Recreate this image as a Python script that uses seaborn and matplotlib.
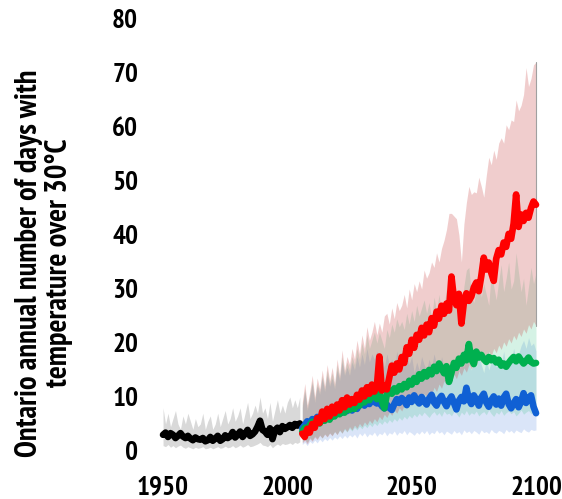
import numpy as np
import pandas as pd
import seaborn as sns
import matplotlib.pyplot as plt
from matplotlib import font_manager

sns.set_theme(style='white')


def pick_narrow_bold():
    cands = []
    for f in font_manager.fontManager.ttflist:
        name = f.name
        if not ('Narrow' in name or 'Condensed' in name):
            continue
        if any(w in name for w in ('Extra', 'Semi', 'Ultra', 'Light', 'Thin', 'Black', 'Medium')):
            continue
        if f.weight not in (700, 'bold'):
            continue
        if f.style != 'normal':
            continue
        rank = 0 if 'Narrow' in name else 1
        cands.append((rank, name))
    cands.sort()
    return cands[0][1] if cands else None


narrow = pick_narrow_bold()
families = ([narrow] if narrow else []) + ['Liberation Sans', 'DejaVu Sans']
plt.rcParams['font.family'] = families
plt.rcParams['font.weight'] = 'bold'
plt.rcParams['text.color'] = 'black'
plt.rcParams['xtick.color'] = 'black'
plt.rcParams['ytick.color'] = 'black'

# historical 1950-2005
hist_years = list(range(1950, 2006))
hist_mean = [3.0, 3.4, 2.6, 3.3, 3.0, 2.4, 2.8, 3.3, 2.7, 2.4,
             2.8, 2.3, 2.0, 2.5, 2.2, 2.1, 2.4, 1.8, 2.0, 2.6,
             1.9, 2.3, 2.8, 1.9, 2.2, 2.9, 2.4, 2.7, 3.5, 2.5,
             3.0, 3.6, 2.6, 3.2, 3.9, 2.8, 3.1, 3.6, 4.5, 5.6,
             3.9, 3.6, 3.0, 4.2, 2.2, 3.8, 4.3, 3.5, 4.6, 4.1,
             4.4, 4.8, 4.3, 5.0, 4.7, 5.1]
hist_hi = [8.0, 5.0, 7.0, 4.5, 6.0, 7.5, 5.0, 4.0, 6.5, 5.0,
           7.0, 5.5, 4.0, 6.0, 4.5, 5.0, 7.0, 4.0, 5.5, 6.5,
           4.0, 5.0, 7.0, 4.5, 6.0, 7.5, 5.0, 6.0, 8.0, 5.5,
           6.5, 8.0, 5.0, 7.0, 9.0, 6.0, 7.0, 8.5, 7.0, 10.0,
           7.0, 8.0, 6.0, 9.0, 5.5, 7.5, 9.5, 7.0, 8.5, 7.0,
           9.0, 10.0, 8.0, 9.5, 8.0, 10.0]
hist_lo = [1.0, 0.8, 1.2, 0.7, 1.0, 0.6, 0.9, 1.1, 0.7, 0.5,
           0.8, 0.6, 0.4, 0.7, 0.5, 0.6, 0.8, 0.4, 0.5, 0.7,
           0.4, 0.6, 0.8, 0.5, 0.6, 0.9, 0.6, 0.7, 1.0, 0.6,
           0.8, 1.1, 0.7, 0.9, 1.2, 0.8, 0.9, 1.1, 1.3, 1.6,
           1.1, 1.0, 0.8, 1.2, 0.6, 1.0, 1.3, 1.0, 1.4, 1.2,
           1.3, 1.5, 1.2, 1.6, 1.4, 1.7]

# projections 2006-2100
proj_years = list(range(2006, 2101))
blue_mean = [4.2, 4.8, 5.5, 4.6, 5.9, 5.2, 6.3, 5.6, 6.8, 6.0,
             6.6, 7.2, 6.4, 7.5, 6.9, 7.8, 7.1, 8.0, 7.4, 7.9,
             7.5, 8.3, 7.8, 8.6, 9.2, 8.4, 9.0, 8.7, 9.5, 9.1,
             8.8, 9.4, 8.3, 7.9, 8.6, 8.0, 7.6, 8.7, 9.6, 8.9,
             9.8, 9.3, 8.5, 9.9, 9.1, 10.3, 9.4, 8.8, 10.0, 9.2,
             8.6, 9.7, 10.4, 9.0, 8.4, 9.6, 10.2, 9.1, 8.3, 9.4,
             10.1, 8.9, 7.7, 9.3, 10.0, 9.2, 11.7, 9.6, 8.7, 10.3,
             9.5, 8.4, 9.9, 10.6, 9.0, 8.2, 9.4, 10.1, 8.6, 9.7,
             8.4, 9.9, 10.6, 8.7, 7.9, 8.8, 9.6, 8.1, 9.1, 10.7,
             8.9, 9.8, 10.3, 8.2, 7.0]
green_mean = [3.6, 4.3, 3.9, 4.8, 5.4, 4.7, 5.8, 5.1, 6.2, 5.6,
              6.3, 5.8, 6.9, 6.4, 7.3, 6.8, 7.6, 7.1, 8.1, 7.6,
              8.3, 7.8, 8.9, 8.4, 9.5, 9.0, 10.0, 9.4, 10.6, 10.1,
              9.6, 10.7, 9.2, 7.9, 10.5, 11.2, 10.6, 11.6, 11.0, 12.0,
              11.4, 12.4, 11.8, 13.0, 12.3, 13.5, 12.8, 14.2, 13.4, 14.6,
              13.8, 15.0, 14.2, 15.6, 14.8, 16.2, 15.3, 14.4, 15.7, 12.8,
              14.5, 16.3, 15.4, 17.1, 16.2, 17.8, 16.8, 19.8, 17.0, 16.1,
              18.4, 17.3, 17.8, 17.0, 16.5, 17.4, 16.8, 17.2, 16.4, 16.9,
              15.8, 16.2, 15.6, 16.3, 16.9, 17.4, 16.6, 17.5, 16.8, 16.2,
              16.7, 17.3, 16.5, 16.2, 16.3]
red_mean = [3.2, 2.6, 4.1, 3.4, 5.0, 4.3, 6.1, 5.2, 7.3, 5.9,
            7.8, 6.4, 8.2, 7.0, 8.6, 7.5, 9.4, 8.1, 9.9, 8.6,
            9.6, 8.9, 10.4, 9.5, 11.2, 10.1, 11.8, 10.6, 12.3, 11.0,
            12.0, 17.5, 11.2, 12.1, 11.4, 13.6, 15.8, 14.5, 16.2, 15.1,
            17.4, 16.3, 19.2, 18.0, 20.6, 19.1, 21.5, 20.6, 22.8, 21.4,
            23.4, 22.0, 24.6, 23.2, 25.8, 24.5, 26.9, 25.4, 27.3, 26.0,
            32.3, 28.2, 27.0, 29.1, 23.6, 27.5, 29.2, 27.8, 28.6, 30.3,
            31.2, 29.6, 32.4, 35.8, 33.6, 34.9, 33.0, 31.5, 35.6, 37.2,
            36.4, 38.6, 37.8, 40.2, 39.3, 42.1, 47.5, 41.5, 43.8, 42.6,
            44.1, 43.2, 45.0, 46.2, 45.6]

blue_hi = [8.0, 11.0, 7.5, 10.0, 12.5, 9.0, 12.0, 10.5, 13.5, 11.0,
           14.0, 12.0, 13.5, 11.5, 15.0, 13.0, 16.5, 14.0, 15.5, 14.0,
           16.5, 15.0, 17.5, 15.5, 18.0, 16.0, 19.0, 16.5, 18.0, 17.0,
           18.5, 16.5, 17.5, 15.5, 18.0, 16.0, 17.0, 15.0, 18.5, 16.5,
           17.0, 15.5, 18.0, 16.0, 17.5, 14.5, 16.5, 15.0, 17.5, 16.0,
           15.0, 17.0, 15.5, 18.0, 16.0, 14.5, 17.5, 15.5, 16.5, 14.0,
           17.0, 15.0, 16.0, 14.5, 17.5, 15.5, 18.5, 16.0, 15.0, 17.0,
           15.5, 17.5, 16.0, 14.5, 17.0, 15.0, 16.5, 18.0, 15.5, 17.0,
           16.0, 18.5, 15.5, 17.5, 16.5, 19.0, 17.0, 18.0, 19.5, 20.5,
           19.0, 21.0, 19.5, 20.0, 18.5]
blue_lo = [1.2, 1.6, 1.0, 1.8, 1.4, 2.0, 1.5, 2.2, 1.7, 2.3,
           1.9, 2.5, 2.0, 2.6, 2.2, 2.8, 2.3, 2.9, 2.4, 3.0,
           2.6, 3.1, 2.4, 3.3, 2.8, 3.4, 2.6, 3.2, 2.9, 3.5,
           2.7, 3.3, 3.0, 3.6, 2.8, 3.4, 3.1, 3.7, 2.9, 3.5,
           3.2, 3.8, 3.0, 3.6, 3.3, 2.9, 3.5, 3.1, 3.7, 3.2,
           3.8, 3.0, 3.5, 3.2, 3.9, 3.3, 3.6, 3.0, 3.7, 3.4,
           3.1, 3.8, 3.3, 3.6, 3.0, 3.9, 3.4, 3.7, 3.2, 3.8,
           3.5, 3.1, 3.9, 3.4, 3.6, 3.2, 4.0, 3.5, 3.3, 3.8,
           3.6, 3.2, 4.0, 3.5, 3.8, 3.3, 3.9, 3.6, 3.4, 4.1,
           3.7, 3.5, 4.0, 3.8, 3.9]
green_hi = [8.5, 11.5, 8.0, 10.5, 13.0, 9.5, 12.5, 11.0, 14.0, 11.5,
            15.0, 12.5, 14.5, 12.0, 16.0, 13.5, 17.5, 14.5, 16.5, 15.0,
            17.5, 16.0, 19.0, 17.0, 20.0, 18.0, 21.5, 19.0, 20.5, 22.0,
            20.0, 22.0, 20.5, 19.0, 22.5, 21.0, 23.5, 22.0, 24.5, 23.0,
            24.0, 22.5, 25.5, 23.5, 26.0, 24.0, 27.0, 25.0, 26.5, 28.0,
            25.5, 27.5, 24.5, 28.5, 26.0, 29.0, 25.5, 27.0, 30.0, 26.5,
            28.0, 31.0, 27.0, 29.5, 26.0, 30.5, 33.5, 34.0, 29.0, 27.5,
            30.0, 32.5, 28.5, 31.0, 29.0, 27.0, 33.0, 30.5, 28.0, 31.5,
            34.5, 29.5, 32.0, 35.0, 30.0, 31.5, 36.7, 33.0, 29.5, 32.0,
            27.0, 30.5, 34.0, 31.0, 33.0]
green_lo = [1.8, 2.2, 1.6, 2.5, 2.0, 2.8, 2.3, 3.0, 2.4, 3.2,
            2.7, 3.4, 2.9, 3.6, 3.1, 3.8, 3.3, 4.0, 3.5, 4.2,
            3.7, 4.4, 3.9, 4.6, 4.1, 4.8, 4.3, 5.0, 4.5, 5.2,
            4.7, 5.4, 4.9, 5.6, 5.1, 5.8, 5.3, 6.0, 5.5, 6.2,
            5.7, 6.4, 5.9, 6.6, 6.1, 6.8, 6.3, 7.0, 6.5, 7.2,
            6.7, 6.2, 6.9, 7.3, 6.6, 7.1, 6.4, 7.4, 6.8, 7.0,
            6.5, 7.3, 6.9, 6.3, 7.2, 6.7, 7.5, 6.6, 7.1, 6.8,
            7.4, 6.5, 7.0, 7.3, 6.7, 7.6, 6.9, 6.4, 7.2, 6.8,
            7.5, 6.6, 7.1, 7.4, 6.9, 7.3, 6.5, 7.0, 7.6, 6.8,
            7.2, 7.5, 6.9, 7.3, 7.0]
red_hi = [9.0, 12.5, 8.5, 11.0, 14.0, 10.0, 13.5, 11.5, 15.0, 12.0,
          16.0, 13.0, 15.5, 12.5, 17.0, 14.0, 18.7, 15.0, 17.5, 16.0,
          19.0, 17.0, 20.5, 18.0, 21.5, 19.0, 23.0, 20.5, 22.0, 24.0,
          21.5, 23.7, 22.0, 25.0, 25.5, 23.5, 26.5, 24.5, 27.5, 26.0,
          27.0, 29.0, 26.5, 30.0, 28.0, 31.0, 29.5, 31.5, 30.0, 33.5,
          32.0, 33.0, 35.0, 34.0, 36.7, 35.0, 37.5, 39.0, 41.0, 44.0,
          44.0, 43.5, 43.0, 40.0, 35.0, 42.0, 46.0, 49.0, 47.5, 48.0,
          47.8, 50.7, 49.0, 47.0, 51.0, 54.4, 53.0, 55.7, 54.0, 57.0,
          58.0, 57.0, 60.4, 59.5, 61.3, 61.0, 65.0, 63.0, 64.0, 66.0,
          71.0, 67.5, 69.0, 71.5, 72.0]
red_lo = [1.5, 2.0, 1.3, 2.3, 1.8, 2.6, 2.1, 2.9, 2.4, 3.1,
          2.6, 3.3, 2.8, 3.6, 3.0, 3.9, 3.3, 4.2, 3.6, 4.5,
          3.9, 4.8, 4.2, 5.1, 4.5, 5.4, 4.8, 5.7, 5.1, 6.0,
          5.4, 6.4, 5.8, 6.8, 6.2, 7.2, 6.6, 7.6, 7.0, 8.0,
          7.4, 8.5, 7.9, 9.0, 8.4, 9.5, 8.9, 10.0, 9.4, 10.6,
          10.0, 11.2, 10.5, 11.8, 11.0, 12.4, 11.6, 13.0, 12.2, 13.6,
          12.8, 14.2, 13.4, 14.8, 14.0, 15.4, 14.6, 16.0, 15.2, 16.6,
          15.8, 17.2, 16.4, 17.8, 17.0, 18.4, 17.6, 19.0, 18.2, 19.6,
          18.8, 20.2, 19.4, 20.8, 20.0, 21.4, 20.6, 22.0, 21.2, 22.6,
          21.8, 23.4, 22.6, 24.0, 23.2]

hist_df = pd.DataFrame({'year': hist_years, 'days': hist_mean})
proj_df = pd.DataFrame({
    'year': proj_years * 3,
    'days': blue_mean + green_mean + red_mean,
    'scenario': ['low'] * 95 + ['mid'] * 95 + ['high'] * 95,
})
palette = {'low': '#1060d4', 'mid': '#00b04f', 'high': '#ff0000'}

fig = plt.figure(figsize=(5.62, 4.99), dpi=100)
ax = fig.add_axes([0.268, 0.0854, 0.699, 0.882])

# envelopes
ax.fill_between(hist_years, hist_lo, hist_hi, color='#d9d9d9', lw=0)
ax.fill_between(proj_years, blue_lo, blue_hi, color='#4a7ee0', alpha=0.2, lw=0)
ax.fill_between(proj_years, green_lo, green_hi, color='#30c080', alpha=0.2, lw=0)
ax.fill_between(proj_years, red_lo, red_hi, color='#c84040', alpha=0.26, lw=0)
ax.plot([2100, 2100], [red_lo[-1], red_hi[-1]], color='#a0a0a0', lw=0.8)

sns.lineplot(data=hist_df, x='year', y='days', color='black', lw=4.8, ax=ax)
sns.lineplot(data=proj_df, x='year', y='days', hue='scenario', palette=palette,
             hue_order=['low', 'mid', 'high'], lw=4.8, ax=ax, legend=False)

ax.set_xlim(1945, 2103)
ax.set_ylim(-1, 80.5)
ax.set_xticks([1950, 2000, 2050, 2100])
ax.set_yticks(range(0, 81, 10))
tick_size = 19.5 if narrow else 17
ax.tick_params(axis='both', length=0, labelsize=tick_size, labelcolor='black')
ax.tick_params(axis='y', pad=9)
ax.tick_params(axis='x', pad=14)
for lab in ax.get_xticklabels() + ax.get_yticklabels():
    lab.set_fontweight('bold')
ax.set_xlabel('')
ax.set_ylabel('')
for s in ax.spines.values():
    s.set_visible(False)
ax.grid(False)

label_size = 22 if narrow else 16.8
fig.text(0.078, 0.473, 'Ontario annual number of days with\ntemperature over 30°C',
         rotation=90, ha='center', va='center', multialignment='center',
         fontsize=label_size, fontweight='bold', linespacing=1.12, color='black')

fig.savefig('out.png', dpi=100)
